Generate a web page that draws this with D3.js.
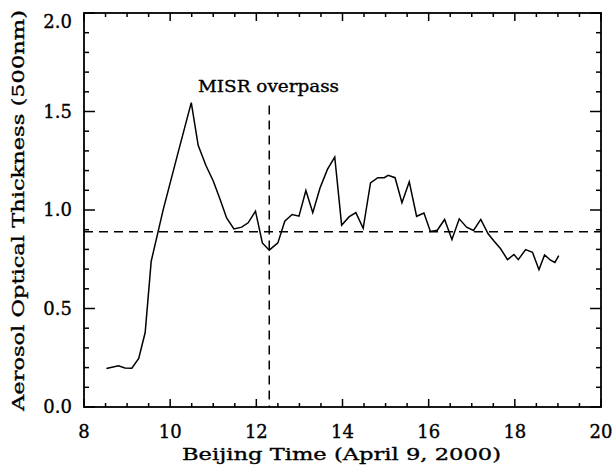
<!DOCTYPE html>
<html lang="en">
<head>
  <meta charset="UTF-8">
  <script src="https://d3js.org/d3.v7.min.js"></script>
  <style>
    body { margin: 0; background: #fff; }
    text { font-family: "DejaVu Serif", serif; fill: #000; stroke: #000; stroke-width: 0.35px; }
  </style>
  <title>Aerosol Optical Thickness</title>
</head>
<body>
  <svg id="chart" width="613" height="473"></svg>
  <script>
    // Beijing time (hours) and AOT at 500nm
    var hours = [8.52, 8.80, 8.95, 9.11, 9.27, 9.42, 9.56, 9.84, 10.17, 10.49,
      10.65, 10.83, 11.00, 11.16, 11.31, 11.48, 11.66, 11.81, 11.98, 12.14,
      12.30, 12.50, 12.66, 12.83, 12.99, 13.15, 13.31, 13.48, 13.65, 13.82,
      13.98, 14.15, 14.31, 14.48, 14.65, 14.82, 14.97, 15.06, 15.22, 15.38,
      15.55, 15.72, 15.89, 16.04, 16.20, 16.37, 16.54, 16.71, 16.88, 17.04,
      17.21, 17.38, 17.52, 17.67, 17.83, 17.98, 18.08, 18.25, 18.41, 18.56,
      18.69, 18.83, 18.93, 19.02];
    var aot = [0.195, 0.209, 0.198, 0.197, 0.246, 0.378, 0.740, 1.003, 1.28, 1.545,
      1.328, 1.226, 1.147, 1.053, 0.960, 0.904, 0.913, 0.935, 0.994, 0.833,
      0.796, 0.833, 0.943, 0.977, 0.969, 1.099, 0.986, 1.113, 1.206, 1.269,
      0.923, 0.965, 0.987, 0.907, 1.138, 1.164, 1.164, 1.176, 1.164, 1.037,
      1.143, 0.968, 0.985, 0.891, 0.897, 0.952, 0.850, 0.955, 0.913, 0.896,
      0.952, 0.879, 0.841, 0.803, 0.748, 0.774, 0.748, 0.799, 0.785, 0.697,
      0.772, 0.745, 0.734, 0.768];

    var meanAot = 0.889;        // horizontal dashed line
    var overpassTime = 12.30;   // vertical dashed line
    var overpassTop = 1.53;
    var overpassLabel = "MISR overpass";

    var xTicks = [8, 10, 12, 14, 16, 18, 20];
    var yTicks = [0.0, 0.5, 1.0, 1.5, 2.0];
    var xTitle = "Beijing Time (April 9, 2000)";
    var yTitle = "Aerosol Optical Thickness (500nm)";

    var svg = d3.select("#chart");
    // plot frame (note: "top" is reserved on window, so use pTop etc.)
    var pLeft = 84, pRight = 601, pTop = 13, pBottom = 407;

    var x = d3.scaleLinear().domain([8, 20]).range([pLeft, pRight]);
    var y = d3.scaleLinear().domain([0, 2]).range([pBottom, pTop]);

    // ticks on all four sides, pointing inward
    var xMinor = d3.range(8, 20.01, 0.5);
    var yMinor = d3.range(0, 2.001, 0.1);
    function isMajor(v, step) { return Math.abs(v / step - Math.round(v / step)) < 1e-6; }

    var tk = svg.append("g").attr("stroke", "#000").attr("stroke-width", 1.5);
    xMinor.forEach(function (v) {
      var len = isMajor(v, 2) ? 8 : 4;
      tk.append("line").attr("x1", x(v)).attr("x2", x(v)).attr("y1", pBottom).attr("y2", pBottom - len);
      tk.append("line").attr("x1", x(v)).attr("x2", x(v)).attr("y1", pTop).attr("y2", pTop + len);
    });
    yMinor.forEach(function (v) {
      var len = isMajor(v, 0.5) ? 11 : 5;
      tk.append("line").attr("y1", y(v)).attr("y2", y(v)).attr("x1", pLeft).attr("x2", pLeft + len);
      tk.append("line").attr("y1", y(v)).attr("y2", y(v)).attr("x1", pRight).attr("x2", pRight - len);
    });

    svg.append("rect")
      .attr("x", pLeft).attr("y", pTop)
      .attr("width", pRight - pLeft).attr("height", pBottom - pTop)
      .attr("fill", "none").attr("stroke", "#000").attr("stroke-width", 1.8);

    // tick labels
    svg.append("g").selectAll("text").data(xTicks).enter().append("text")
      .attr("x", function (d) { return x(d); })
      .attr("y", 438)
      .attr("text-anchor", "middle")
      .style("font-size", "18px")
      .text(function (d) { return d; });

    svg.append("g").selectAll("text").data(yTicks).enter().append("text")
      .attr("x", 72)
      .attr("y", function (d) { return Math.max(y(d), pTop + 9) + 6; })
      .attr("text-anchor", "end")
      .style("font-size", "18px")
      .text(function (d) { return d3.format(".1f")(d); });

    // axis titles
    svg.append("text")
      .attr("x", 182).attr("y", 460)
      .attr("textLength", 319).attr("lengthAdjust", "spacingAndGlyphs")
      .style("font-size", "17px")
      .text(xTitle);

    svg.append("text")
      .attr("transform", "translate(23.5,411) rotate(-90)")
      .attr("textLength", 401).attr("lengthAdjust", "spacingAndGlyphs")
      .style("font-size", "17px")
      .text(yTitle);

    // reference lines
    svg.append("line")
      .attr("x1", x(8)).attr("x2", x(20))
      .attr("y1", y(meanAot)).attr("y2", y(meanAot))
      .attr("stroke", "#000").attr("stroke-width", 1.5)
      .attr("stroke-dasharray", "9,6");

    svg.append("line")
      .attr("x1", x(overpassTime)).attr("x2", x(overpassTime))
      .attr("y1", y(overpassTop)).attr("y2", y(0))
      .attr("stroke", "#000").attr("stroke-width", 1.5)
      .attr("stroke-dasharray", "9,6");

    svg.append("text")
      .attr("x", 198).attr("y", 91.5)
      .attr("textLength", 141).attr("lengthAdjust", "spacingAndGlyphs")
      .style("font-size", "16px")
      .text(overpassLabel);

    // data line
    var line = d3.line()
      .x(function (d, i) { return x(hours[i]); })
      .y(function (d) { return y(d); });

    svg.append("path")
      .datum(aot)
      .attr("d", line)
      .attr("fill", "none")
      .attr("stroke", "#000")
      .attr("stroke-width", 1.5)
      .attr("stroke-linejoin", "miter");
  </script>
</body>
</html>
